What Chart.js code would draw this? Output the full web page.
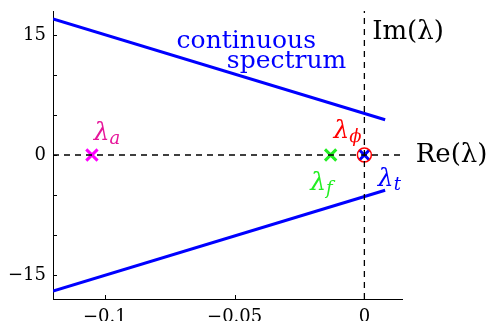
<!DOCTYPE html>
<html>
<head>
<meta charset="utf-8">
<script src="https://cdn.jsdelivr.net/npm/chart.js@4/dist/chart.umd.min.js"></script>
<style>
  html, body { margin: 0; padding: 0; background: #fff; }
  #wrap { width: 488px; height: 321px; }
</style>
</head>
<body>
<div id="wrap"><canvas id="spec"></canvas></div>
<script>
// continuous spectrum branches (Re, Im)
const specRe = [-0.12, 0.008];
const specImUpper = [17, 4.4];
const specImLower = [-17, -4.4];

// discrete eigenvalues on the real axis
const lamARe = -0.105;
const lamFRe = -0.013;
const lamTRe = 0;
const lamPhiRe = 0;

const xTicks = [-0.1, -0.05, 0];
const yTicks = [-15, -10, -5, 0, 5, 10, 15];
const yLabels = [-15, 0, 15];

const xMin = -0.12, xMax = 0.0145;
const yMin = -18, yMax = 18;

const SERIF = '"DejaVu Serif", "Liberation Serif", serif';

const pts = (xs, ys) => xs.map((x, i) => ({ x, y: ys[i] }));

function fmt(v) {
  const s = String(Math.abs(v));
  return v < 0 ? "\u2212" + s : s;
}

// text labels placed in data coordinates
const labels = [
  { x: -0.0455, y: 14.2, text: "continuous", color: "#0000ff", size: 25, align: "center" },
  { x: -0.0300, y: 11.7, text: "spectrum", color: "#0000ff", size: 25, align: "center" },
  { x: 0.0030, y: 15.3, text: "Im(\u03bb)", color: "#000", size: 26, align: "left" },
  { x: 0.0198, y: 0, text: "Re(\u03bb)", color: "#000", size: 26, align: "left" },
  { x: -0.1043, y: 2.7, text: "\u03bb", sub: "a", color: "#e6169a", size: 25, align: "left" },
  { x: -0.0119, y: 3.0, text: "\u03bb", sub: "\u03d5", color: "#ff0000", size: 25, align: "left" },
  { x: -0.0209, y: -3.6, text: "\u03bb", sub: "f", color: "#22ee22", size: 25, align: "left" },
  { x: 0.0052, y: -3.0, text: "\u03bb", sub: "t", color: "#0000ff", size: 25, align: "left" }
];

const textPlugin = {
  id: "texts",
  afterDatasetsDraw(chart) {
    const { ctx, scales } = chart;
    ctx.save();
    ctx.textBaseline = "middle";
    labels.forEach(l => {
      const px = scales.x.getPixelForValue(l.x);
      const py = scales.y.getPixelForValue(l.y);
      ctx.fillStyle = l.color;
      ctx.font = (l.sub ? "italic " : "") + l.size + "px " + SERIF;
      ctx.textAlign = l.align;
      ctx.fillText(l.text, px, py);
      if (l.sub) {
        const w = ctx.measureText(l.text).width;
        ctx.font = "italic " + Math.round(l.size * 0.7) + "px " + SERIF;
        ctx.textAlign = "left";
        ctx.fillText(l.sub, px + w, py + 6);
      }
    });
    ctx.restore();
  }
};

// inward tick marks on the left and bottom axes
const tickPlugin = {
  id: "inTicks",
  afterDraw(chart) {
    const { ctx, scales, chartArea } = chart;
    ctx.save();
    ctx.strokeStyle = "#000";
    ctx.lineWidth = 1;
    ctx.beginPath();
    xTicks.forEach(v => {
      const px = Math.round(scales.x.getPixelForValue(v)) + 0.5;
      ctx.moveTo(px, chartArea.bottom);
      ctx.lineTo(px, chartArea.bottom - 4);
    });
    yTicks.forEach(v => {
      const py = Math.round(scales.y.getPixelForValue(v)) + 0.5;
      ctx.moveTo(chartArea.left, py);
      ctx.lineTo(chartArea.left + 4, py);
    });
    ctx.stroke();
    ctx.restore();
  }
};

new Chart(document.getElementById("spec"), {
  type: "scatter",
  data: {
    datasets: [
      { data: pts([xMin, xMax], [0, 0]), showLine: true, borderColor: "#000", borderWidth: 1.6, borderDash: [6, 5], pointRadius: 0 },
      { data: pts([0, 0], [yMin, yMax]), showLine: true, borderColor: "#000", borderWidth: 1.3, borderDash: [6, 5], pointRadius: 0 },
      { data: pts(specRe, specImUpper), showLine: true, borderColor: "#0000ff", borderWidth: 3, pointRadius: 0 },
      { data: pts(specRe, specImLower), showLine: true, borderColor: "#0000ff", borderWidth: 3, pointRadius: 0 },
      { data: [{ x: lamPhiRe, y: 0 }], pointStyle: "circle", pointRadius: 7, borderColor: "#ff0000", borderWidth: 1.5, backgroundColor: "rgba(0,0,0,0)" },
      { data: [{ x: lamARe, y: 0 }], pointStyle: "crossRot", pointRadius: 8, borderColor: "#ff00ff", borderWidth: 3 },
      { data: [{ x: lamFRe, y: 0 }], pointStyle: "crossRot", pointRadius: 8, borderColor: "#22ee22", borderWidth: 3 },
      { data: [{ x: lamTRe, y: 0 }], pointStyle: "crossRot", pointRadius: 7, borderColor: "#0000ff", borderWidth: 3 }
    ]
  },
  options: {
    responsive: true,
    maintainAspectRatio: false,
    animation: false,
    layout: { padding: { top: 10, right: 86, left: 0, bottom: 0 } },
    plugins: { legend: { display: false }, tooltip: { enabled: false } },
    scales: {
      x: {
        type: "linear",
        min: xMin,
        max: xMax,
        afterBuildTicks: axis => { axis.ticks = xTicks.map(v => ({ value: v })); },
        afterFit: axis => { axis.height = 22; axis.paddingLeft = 0; axis.paddingRight = 0; },
        grid: { display: false, drawTicks: false },
        border: { display: true, color: "#000", width: 1 },
        ticks: { color: "#000", padding: 8, maxRotation: 0, font: { family: SERIF, size: 18 }, callback: v => fmt(v) }
      },
      y: {
        type: "linear",
        min: yMin,
        max: yMax,
        afterBuildTicks: axis => { axis.ticks = yLabels.map(v => ({ value: v })); },
        afterFit: axis => { axis.width = 53; axis.paddingTop = 0; axis.paddingBottom = 0; },
        grid: { display: false, drawTicks: false },
        border: { display: true, color: "#000", width: 1 },
        ticks: { color: "#000", padding: 7, font: { family: SERIF, size: 18 }, callback: v => fmt(v) }
      }
    }
  },
  plugins: [textPlugin, tickPlugin]
});
</script>
</body>
</html>
